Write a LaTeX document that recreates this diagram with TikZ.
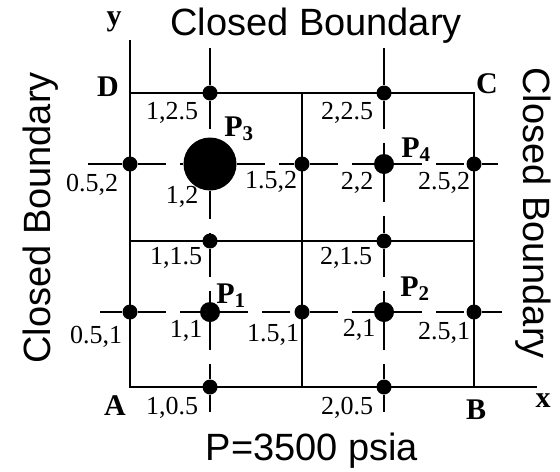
\documentclass[tikz,border=0pt]{standalone}
\usepackage{fontspec}
\setmainfont{Liberation Serif}
\setsansfont{Liberation Sans}
\usetikzlibrary{positioning}

\begin{document}
\begin{tikzpicture}[x=0.5pt,y=-0.5pt,
  gridln/.style={line width=1.3pt},
  dashln/.style={line width=1.3pt,dash pattern=on 14pt off 7pt},
  dot/.style={circle,fill=black,inner sep=0pt,minimum size=7.5pt},
  well/.style={circle,fill=black,inner sep=0pt,minimum size=10pt},
  bigwell/.style={circle,fill=black,inner sep=0pt,minimum size=26.5pt},
  lbl/.style={font=\fontsize{13}{15}\selectfont,inner sep=0pt},
  corner/.style={font=\fontsize{15}{17}\selectfont\bfseries,inner sep=0pt},
  wlbl/.style={font=\fontsize{15}{17}\selectfont\bfseries,inner sep=0pt,anchor=base west},
  side/.style={font=\sffamily\fontsize{19}{22}\selectfont,inner sep=0pt,anchor=base}
]
  \useasboundingbox (0,0) rectangle (560,471);
  % grid corners and line ends
  \coordinate (A) at (130,387);
  \coordinate (B) at (474,387);
  \coordinate (C) at (474,93);
  \coordinate (D) at (130,93);
  \coordinate (Tm) at (302,93);
  \coordinate (Bm) at (302,387);
  \coordinate (Lm) at (130,241);
  \coordinate (Rm) at (474,241);
  \coordinate (ytop) at (130,40);
  \coordinate (xend) at (537,387);
  \coordinate (h2w) at (88,164);
  \coordinate (h2e) at (498,164);
  \coordinate (h1w) at (100,312);
  \coordinate (h1e) at (502,312);
  \coordinate (v1n) at (210,48);
  \coordinate (v1s) at (210,412);
  \coordinate (v2n) at (384,48);
  \coordinate (v2s) at (384,412);

  % grid blocks
  \draw[gridln] (ytop) -- (A) -- (xend);
  \draw[gridln] (D) -- (C) -- (B);
  \draw[gridln] (Tm) -- (Bm);
  \draw[gridln] (Lm) -- (Rm);

  % grid points
  \node[dot] (n1-25) at (210,93) {};
  \node[dot] (n2-25) at (384,93) {};
  \node[dot] (n05-2) at (130,164) {};
  \node[dot] (n15-2) at (302,164) {};
  \node[dot] (n25-2) at (474,164) {};
  \node[dot] (n1-15) at (210,241) {};
  \node[dot] (n2-15) at (384,241) {};
  \node[dot] (n05-1) at (130,312) {};
  \node[dot] (n15-1) at (302,312) {};
  \node[dot] (n25-1) at (474,312) {};
  \node[dot] (n1-05) at (210,387) {};
  \node[dot] (n2-05) at (384,387) {};
  % wells
  \node[bigwell] (w3) at (210,164) {};
  \node[well] (w4) at (384,164) {};
  \node[well] (w1) at (210,312) {};
  \node[well] (w2) at (384,312) {};

  % well lines
  \draw[gridln] (h2w) -- (n05-2);
  \draw[gridln] (n25-2) -- (h2e);
  \draw[gridln] (h1w) -- (n05-1);
  \draw[gridln] (n25-1) -- (h1e);
  \draw[gridln] (v1n) -- (n1-25);
  \draw[gridln] (n1-05) -- (v1s);
  \draw[gridln] (v2n) -- (n2-25);
  \draw[gridln] (n2-05) -- (v2s);
  \foreach \a/\b in {n05-2/w3,w3/n15-2,n15-2/w4,w4/n25-2,
                     n05-1/w1,w1/n15-1,n15-1/w2,w2/n25-1,
                     n1-25/w3,w3/n1-15,n1-15/w1,w1/n1-05,
                     n2-25/w4,w4/n2-15,n2-15/w2,w2/n2-05}
    {\draw[dashln] (\a) -- (\b);}

  % point labels
  \node[lbl] (l1-25) at (172,113) {1,2.5};
  \node[lbl] (l2-25) at (347,113) {2,2.5};
  \node[lbl] (l05-2) at (92,185) {0.5,2};
  \node[lbl] (l1-2) at (182,197) {1,2};
  \node[lbl] (l15-2) at (271,182) {1.5,2};
  \node[lbl] (l2-2) at (357,183) {2,2};
  \node[lbl] (l25-2) at (444,183) {2.5,2};
  \node[lbl] (l1-15) at (176,258) {1,1.5};
  \node[lbl] (l2-15) at (346,258) {2,1.5};
  \node[lbl] (l05-1) at (96,337) {0.5,1};
  \node[lbl] (l1-1) at (186,331) {1,1};
  \node[lbl] (l15-1) at (273,335) {1.5,1};
  \node[lbl] (l2-1) at (359,330) {2,1};
  \node[lbl] (l25-1) at (444,333) {2.5,1};
  \node[lbl] (l1-05) at (172,408) {1,0.5};
  \node[lbl] (l2-05) at (347,408) {2,0.5};

  % well labels
  \node[wlbl] (p3) at (224,136) {P$_{\mathbf{3}}$};
  \node[wlbl] (p4) at (401,157) {P$_{\mathbf{4}}$};
  \node[wlbl] (p1) at (216,303) {P$_{\mathbf{1}}$};
  \node[wlbl] (p2) at (400,296) {P$_{\mathbf{2}}$};

  % corners and axes
  \node[corner] (cA) at (115,406) {A};
  \node[corner] (cB) at (476,410) {B};
  \node[corner] (cC) at (487,84) {C};
  \node[corner] (cD) at (108,87) {D};
  \node[corner] (ax) at (543,401) {x};
  \node[corner] (ay) at (114,22) {y};

  % boundaries
  \node[side] (top) at (316,35) {Closed Boundary};
  \node[side,rotate=90] (left) at (50,218) {Closed Boundary};
  \node[side,rotate=-90] (right) at (523,213) {Closed Boundary};
  \node[side] (bot) at (312,460) {P=3500 psia};
\end{tikzpicture}
\end{document}
